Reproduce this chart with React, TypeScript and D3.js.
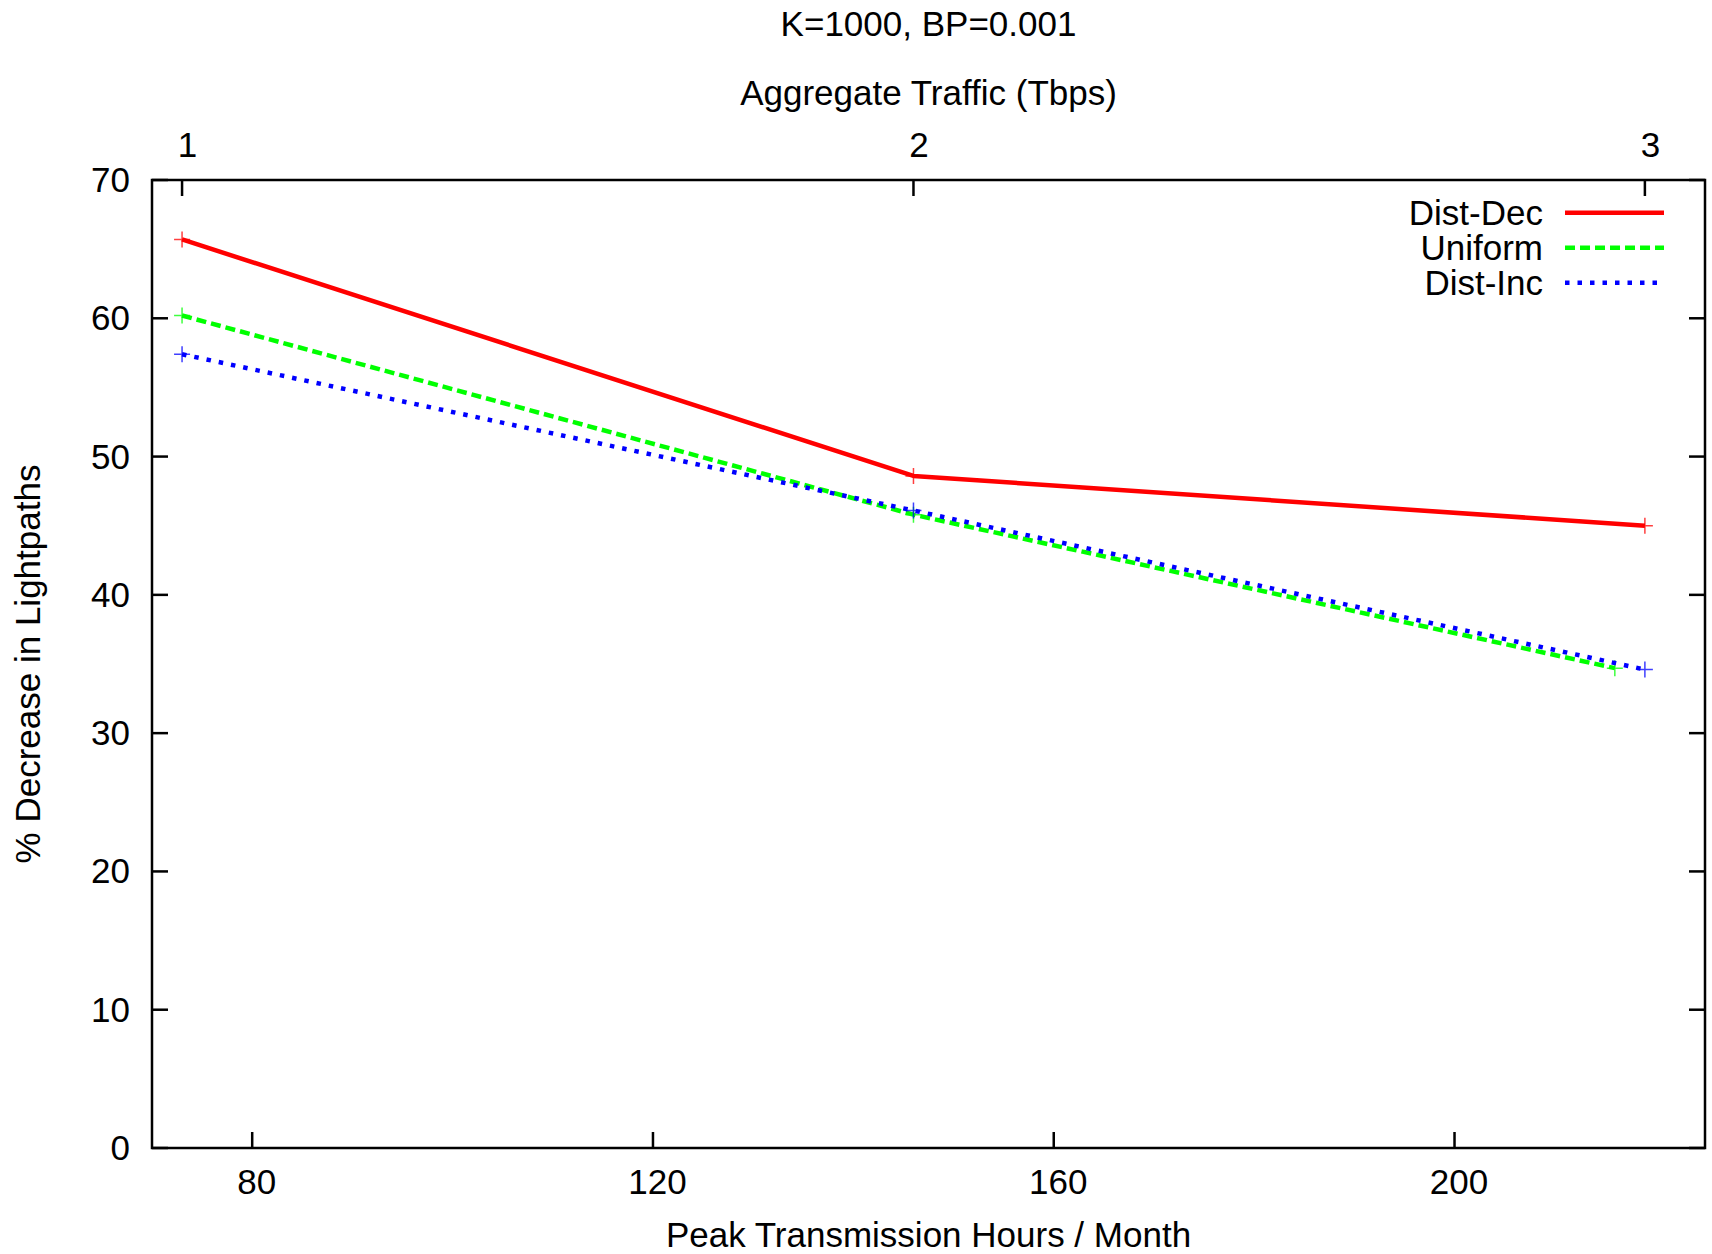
import React, { useRef, useEffect } from "react";
import * as d3 from "d3";

// Peak transmission hours per month (bottom axis); 73 h = 1 Tbps on the top axis
const distDecHours = [73, 146, 219];
const distDecValues = [65.7, 48.6, 45.0];
const uniformHours = [73, 146, 216];
const uniformValues = [60.2, 45.8, 34.7];
const distIncHours = [73, 146, 219];
const distIncValues = [57.4, 46.1, 34.6];

const bottomTicks = [80, 120, 160, 200];
const topTicks = [1, 2, 3];
const leftTicks = [0, 10, 20, 30, 40, 50, 60, 70];
const hoursPerTbps = 73;

const series = [
  { name: "Dist-Dec", hours: distDecHours, values: distDecValues, color: "#ff0000", dash: null },
  { name: "Uniform", hours: uniformHours, values: uniformValues, color: "#00ff00", dash: "10,5" },
  { name: "Dist-Inc", hours: distIncHours, values: distIncValues, color: "#0000ff", dash: "4.5,8" },
];

const App = () => {
  const svgRef = useRef(null);

  useEffect(() => {
    document.body.style.margin = "0";
    const width = 1712;
    const height = 1254;
    const left = 152, right = 1705, top = 180, bottom = 1148;
    const font = "'Liberation Sans', Arial, sans-serif";
    const fs = 35;

    const svg = d3.select(svgRef.current).attr("width", width).attr("height", height);
    svg.selectAll("*").remove();

    const x = d3.scaleLinear().domain([70, 225]).range([left, right]);
    const x2 = d3.scaleLinear().domain([70 / hoursPerTbps, 225 / hoursPerTbps]).range([left, right]);
    const y = d3.scaleLinear().domain([0, 70]).range([bottom, top]);

    svg.append("rect").attr("width", width).attr("height", height).attr("fill", "#fff");

    const tickLen = 16;
    const ax = svg.append("g").attr("stroke", "#000").attr("stroke-width", 2.5);
    // ticks
    bottomTicks.forEach((t) => {
      ax.append("line").attr("x1", x(t)).attr("x2", x(t)).attr("y1", bottom).attr("y2", bottom - tickLen);
    });
    topTicks.forEach((t) => {
      ax.append("line").attr("x1", x2(t)).attr("x2", x2(t)).attr("y1", top).attr("y2", top + tickLen);
    });
    leftTicks.forEach((t) => {
      ax.append("line").attr("x1", left).attr("x2", left + tickLen).attr("y1", y(t)).attr("y2", y(t));
      ax.append("line").attr("x1", right).attr("x2", right - tickLen).attr("y1", y(t)).attr("y2", y(t));
    });

    const text = (tx, ty, s, anchor = "middle") =>
      svg
        .append("text")
        .attr("x", tx)
        .attr("y", ty)
        .attr("text-anchor", anchor)
        .attr("font-family", font)
        .attr("font-size", fs)
        .attr("fill", "#000")
        .text(s);

    bottomTicks.forEach((t) => text(x(t) + 4.5, 1194, t));
    topTicks.forEach((t) => text(x2(t) + 5.5, 157, t));
    leftTicks.forEach((t) => text(130, y(t) + 12, t, "end"));

    text((left + right) / 2, 36, "K=1000, BP=0.001");
    text((left + right) / 2, 105, "Aggregate Traffic (Tbps)");
    text((left + right) / 2, 1247, "Peak Transmission Hours / Month");
    text(0, 0, "% Decrease in Lightpaths").attr(
      "transform",
      `translate(40,${(top + bottom) / 2}) rotate(-90)`
    );

    const line = d3
      .line()
      .x((d) => x(d[0]))
      .y((d) => y(d[1]));

    series.forEach((s) => {
      const pts = s.hours.map((h, i) => [h, s.values[i]]);
      svg
        .append("path")
        .attr("d", line(pts))
        .attr("fill", "none")
        .attr("stroke", s.color)
        .attr("stroke-width", 4.5)
        .attr("stroke-dasharray", s.dash)
        .attr("stroke-linejoin", "round");
      pts.forEach((p) => {
        const cx = x(p[0]), cy = y(p[1]);
        svg
          .append("path")
          .attr("d", `M${cx - 8},${cy}H${cx + 8}M${cx},${cy - 8}V${cy + 8}`)
          .attr("stroke", s.color)
          .attr("stroke-width", 1.5)
          .attr("opacity", 0.75);
      });
    });

    // legend
    series.forEach((s, i) => {
      const ly = 212.7 + i * 35;
      text(1543, ly + 12, s.name, "end");
      svg
        .append("line")
        .attr("x1", 1565)
        .attr("x2", 1664)
        .attr("y1", ly)
        .attr("y2", ly)
        .attr("stroke", s.color)
        .attr("stroke-width", 4.5)
        .attr("stroke-dasharray", s.dash);
    });

    ax.append("rect")
      .attr("x", left)
      .attr("y", top)
      .attr("width", right - left)
      .attr("height", bottom - top)
      .attr("fill", "none");
  }, []);

  return <svg ref={svgRef} style={{ display: "block" }}></svg>;
};

export default App;
